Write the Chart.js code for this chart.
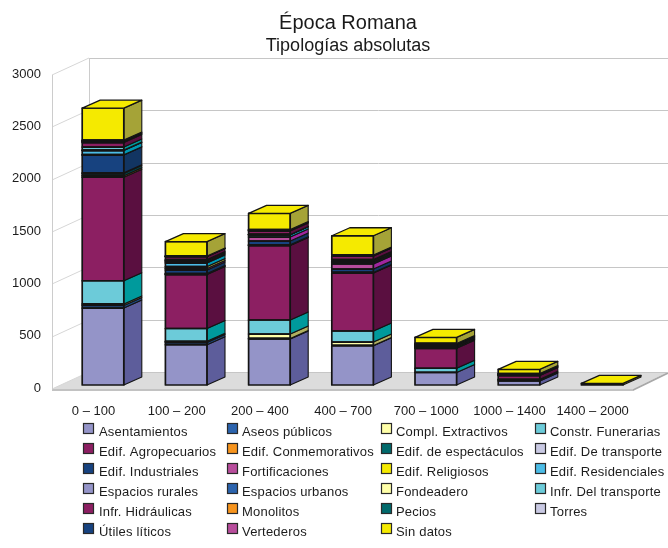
<!DOCTYPE html>
<html lang="es">
<head>
<meta charset="utf-8">
<title>Época Romana</title>
<style>
html,body{margin:0;padding:0;background:#fff}
canvas{display:block}
</style>
<script src="https://cdn.jsdelivr.net/npm/chart.js@4"></script>
</head>
<body>
<canvas id="c" width="668" height="548"></canvas>
<script>
const categories = ['0 – 100','100 – 200','200 – 400','400 – 700','700 – 1000','1000 – 1400','1400 – 2000'];
const yTicks = [0,500,1000,1500,2000,2500,3000];

// Site counts per chronological band, bottom of the stack first
const asentamientos     = [735,385,440,375,120,38,0];
const aseosPublicos     = [25,22,5,3,0,8,0];
const complExtractivos  = [15,10,42,32,0,0,0];
const constrFunerarias  = [221,123,134,106,40,8,0];
const edifAgropecuarios = [989,515,711,554,190,36,0];
const edifConmemorativos= [15,3,3,2,5,4,0];
const edifEspectaculos  = [20,5,3,3,4,4,0];
const edifTransporte    = [7,2,2,1,4,3,0];
const edifIndustriales  = [170,33,35,32,4,3,0];
const fortificaciones   = [4,16,38,48,4,3,0];
const edifReligiosos    = [0,17,0,0,4,0,0];
const edifResidenciales = [39,34,22,8,3,3,0];
const espaciosRurales   = [3,9,1,10,3,0,0];
const espaciosUrbanos   = [2,9,1,10,3,0,0];
const fondeadero        = [0,8,1,5,3,0,0];
const infrTransporte    = [28,8,1,10,3,0,0];
const infrHidraulicas   = [43,28,33,33,3,0,0];
const monolitos         = [6,1,3,2,2,0,0];
const pecios            = [6,1,3,2,2,0,0];
const torres            = [3,1,3,2,0,0,0];
const utilesLiticos     = [5,1,2,2,0,0,0];
const vertederos        = [4,1,2,2,0,0,0];
const sinDatos          = [305,138,155,184,58,40,15];

const seriesNames = ['Asentamientos','Aseos públicos','Compl. Extractivos','Constr. Funerarias',
  'Edif. Agropecuarios','Edif. Conmemorativos','Edif. de espectáculos','Edif. De transporte',
  'Edif. Industriales','Fortificaciones','Edif. Religiosos','Edif. Residenciales',
  'Espacios rurales','Espacios urbanos','Fondeadero','Infr. Del transporte',
  'Infr. Hidráulicas','Monolitos','Pecios','Torres',
  'Útiles líticos','Vertederos','Sin datos'];
const seriesValues = [asentamientos,aseosPublicos,complExtractivos,constrFunerarias,
  edifAgropecuarios,edifConmemorativos,edifEspectaculos,edifTransporte,
  edifIndustriales,fortificaciones,edifReligiosos,edifResidenciales,
  espaciosRurales,espaciosUrbanos,fondeadero,infrTransporte,
  infrHidraulicas,monolitos,pecios,torres,
  utilesLiticos,vertederos,sinDatos];

// The palette repeats every twelve series; front face and shaded side face
const frontCycle = ['#9494c8','#2b63ad','#ffffa8','#6ccbd9','#8c1f62','#f7941d','#00696b','#c9c9e3','#17427f','#b84d9c','#f5ea00','#4cbce6'];
const sideCycle  = ['#5d5d9b','#1d4a85','#b0b060','#009a9c','#5a0f40','#b06a14','#004a4c','#8d8db0','#123562','#a0269f','#a5a337','#0098b4'];
const frontColors = seriesNames.map((_,i)=> i===22 ? '#f5ea00' : frontCycle[i%12]);
const sideColors  = seriesNames.map((_,i)=> i===22 ? '#a5a337' : sideCycle[i%12]);

const OUTLINE = '#141414';
const FONT = '"Liberation Sans", Arial, sans-serif';

// Oblique projection used for bars, walls and floor
const barDepth = {dx:18, dy:8};
const wall = {front:52, back:89, right:668, floorDrop:4, backRise:13, floorFront:633};

const legendLayout = {
  textX:[99,242,396,550], swatchX:[83,227,381,535],
  firstRow:431, rowStep:20, swatch:10
};

function polygon(ctx, pts, fill, stroke, lw){
  ctx.beginPath();
  pts.forEach((p,i)=> i ? ctx.lineTo(p[0],p[1]) : ctx.moveTo(p[0],p[1]));
  ctx.closePath();
  if(fill){ctx.fillStyle=fill;ctx.fill();}
  if(stroke){ctx.strokeStyle=stroke;ctx.lineWidth=lw||1;ctx.stroke();}
}

const backdrop = {
  id:'backdrop',
  beforeDatasetsDraw(chart){
    const {ctx, scales:{y}} = chart;
    const base = y.getPixelForValue(0);
    const f = base + wall.floorDrop, b = base - wall.backRise;
    ctx.save();
    // Floor slab
    polygon(ctx,[[wall.front,f],[wall.back,b],[wall.right,b],[wall.floorFront,f]],'#dcdcdc');
    polygon(ctx,[[wall.front,f],[wall.floorFront,f],[wall.floorFront,f+2],[wall.front,f+2]],'#c2c2c2');
    polygon(ctx,[[wall.floorFront,f],[wall.right,b],[wall.right,b+2],[wall.floorFront,f+2]],'#a8a8a8');
    // Gridlines on the back plane and the left wall
    ctx.lineWidth=1;
    y.ticks.forEach(t=>{
      const p = Math.round(y.getPixelForValue(t.value));
      ctx.strokeStyle='#c6c6c6';
      ctx.beginPath();ctx.moveTo(wall.back,p-wall.backRise+.5);ctx.lineTo(wall.right,p-wall.backRise+.5);ctx.stroke();
      ctx.strokeStyle='#d6d6d6';
      ctx.beginPath();ctx.moveTo(wall.front,p+wall.floorDrop);ctx.lineTo(wall.back,p-wall.backRise);ctx.stroke();
    });
    const top = y.getPixelForValue(y.max);
    ctx.strokeStyle='#cccccc';
    ctx.beginPath();
    ctx.moveTo(wall.front+.5,top+wall.floorDrop);ctx.lineTo(wall.front+.5,f);
    ctx.moveTo(wall.back+.5,top-wall.backRise);ctx.lineTo(wall.back+.5,b);
    ctx.stroke();
    ctx.restore();
  },
  // Outlines, side and top faces of every stacked segment
  afterDatasetsDraw(chart){
    const {ctx} = chart;
    const {dx,dy} = barDepth;
    ctx.save();
    ctx.lineJoin='round';
    categories.forEach((_,ci)=>{
      let last = null;
      chart.data.datasets.forEach((ds,di)=>{
        if(!ds.data[ci]) return;
        const el = chart.getDatasetMeta(di).data[ci];
        const l = el.x - el.width/2, r = el.x + el.width/2;
        polygon(ctx,[[r,el.y],[r+dx,el.y-dy],[r+dx,el.base-dy],[r,el.base]],sideColors[di],OUTLINE,1.1);
        polygon(ctx,[[l,el.y],[r,el.y],[r,el.base],[l,el.base]],null,OUTLINE,1.7);
        last = {el,di};
      });
      if(last){
        const {el,di} = last;
        const l = el.x - el.width/2, r = el.x + el.width/2;
        polygon(ctx,[[l,el.y],[l+dx,el.y-dy],[r+dx,el.y-dy],[r,el.y]],frontColors[di],OUTLINE,1.3);
      }
    });
    ctx.restore();
  },
  // Four-column key below the chart
  afterDraw(chart){
    const {ctx} = chart;
    const L = legendLayout;
    ctx.save();
    ctx.font = '13px '+FONT;
    ctx.letterSpacing = '0.2px';
    ctx.textBaseline='middle';
    ctx.textAlign='left';
    chart.data.datasets.forEach((ds,i)=>{
      const col = i%4, row = Math.floor(i/4);
      const y = L.firstRow + row*L.rowStep;
      ctx.fillStyle = ds.backgroundColor;
      ctx.fillRect(L.swatchX[col]+.5, y-7.5, L.swatch, L.swatch);
      ctx.strokeStyle='#2a2a2a';
      ctx.lineWidth=1.2;
      ctx.strokeRect(L.swatchX[col]+.5, y-7.5, L.swatch, L.swatch);
      ctx.fillStyle='#1c1c1c';
      ctx.fillText(ds.label, L.textX[col], y+1);
    });
    ctx.restore();
  },
  // Centre both headings over the drawing rather than over the canvas
  afterLayout(chart){
    chart.boxes.forEach(b=>{
      if(b.options && b.options.text && !b.axis){ b.left = 14; b.right = 682; }
    });
  }
};

new Chart(document.getElementById('c'),{
  type:'bar',
  data:{
    labels:categories,
    datasets:seriesNames.map((name,i)=>({
      label:name,
      data:seriesValues[i],
      backgroundColor:frontColors[i],
      borderWidth:0,
      barPercentage:.5,
      categoryPercentage:1
    }))
  },
  options:{
    responsive:false,
    animation:false,
    layout:{autoPadding:false,padding:{top:0,left:0,right:24.2,bottom:0}},
    plugins:{
      legend:{display:false},
      tooltip:{enabled:false},
      title:{display:true,text:'Época Romana',color:'#1a1a1a',
        font:{family:FONT,size:20,weight:'normal',lineHeight:1.2},padding:{top:11,bottom:0}},
      subtitle:{display:true,text:'Tipologías absolutas',color:'#1a1a1a',
        font:{family:FONT,size:18,weight:'normal',lineHeight:1.2},padding:{top:0,bottom:14.4}}
    },
    scales:{
      x:{
        stacked:true,
        grid:{display:false,drawTicks:false},
        border:{display:false},
        afterFit(s){s.height=163;},
        ticks:{color:'#1c1c1c',font:{family:FONT,size:13},padding:19,labelOffset:-9.5,autoSkip:false,maxRotation:0}
      },
      y:{
        stacked:true,
        min:0,max:3000,
        afterBuildTicks(s){s.ticks=yTicks.map(v=>({value:v}));},
        grid:{display:false,drawTicks:false},
        border:{display:false},
        afterFit(s){s.width=61.4;},
        ticks:{color:'#1c1c1c',font:{family:FONT,size:13},padding:20.4,labelOffset:3,callback:v=>String(v)}
      }
    }
  },
  plugins:[backdrop]
});
</script>
</body>
</html>
